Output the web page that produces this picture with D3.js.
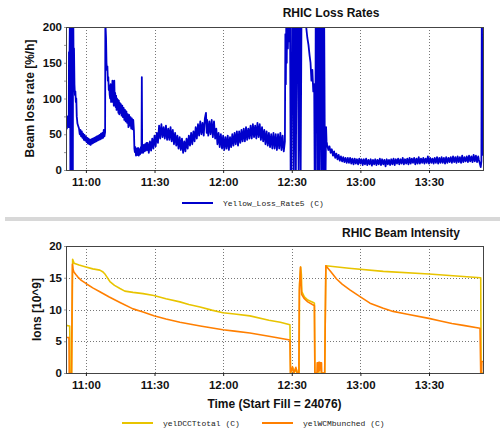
<!DOCTYPE html>
<html>
<head>
<meta charset="utf-8">
<script src="https://cdn.jsdelivr.net/npm/d3@7"></script>
<style>
  body { margin: 0; background: #fff; }
  svg { display: block; }
</style>
</head>
<body>
<svg id="chart" width="500" height="437"></svg>
<script>
// ---- Data (time = minutes after 10:00)
const timeDomain = [51.3, 233.6];
const timeTicks = ['11:00', '11:30', '12:00', '12:30', '13:00', '13:30'];

const lossTicks = [0, 25, 50, 75, 100, 125, 150, 175, 200];
const ionTicks = [0, 5, 10, 15, 20];

const yellowLossRate5 = [
  [51.3, 62], [51.5, 70], [51.7, 58], [51.9, 75], [52.1, 65], [52.3, 72], [52.5, 60],
  [52.6, 165], [52.8, 150], [53.0, 210], [53.1, 240], [53.2, 0], [53.6, 0], [53.8, 250],
  [54.0, 0], [54.3, 0], [54.4, 250], [54.6, 160], [54.8, 170], [55.0, 120], [55.2, 105],
  [55.4, 110], [55.6, 95], [55.8, 100], [56.0, 75], [56.3, 65], [56.6, 62], [57, 58],
  [57.3, 50], [57.6, 56], [57.9, 47], [58.2, 54], [58.5, 45], [58.8, 51], [59.1, 42],
  [59.4, 49], [59.7, 41], [60.0, 47], [60.3, 39], [60.6, 45], [60.9, 37], [61.2, 44],
  [61.5, 36], [61.8, 42], [62.1, 35], [62.4, 43], [62.7, 37], [63.0, 44], [63.3, 38],
  [63.6, 45], [63.9, 39], [64.2, 46], [64.5, 40], [64.8, 47], [65.1, 41], [65.4, 48],
  [65.7, 42], [66.0, 49], [66.3, 43], [66.6, 51], [66.9, 44], [67.2, 52], [67.5, 45],
  [67.8, 56], [68.1, 47], [68.4, 53],
  [68.5, 205], [68.6, 200], [68.8, 185], [69.0, 150], [69.2, 140], [69.4, 145], [69.6, 125],
  [69.8, 130], [70.0, 112], [70.2, 118], [70.4, 105], [70.6, 100], [70.8, 120], [71.0, 95],
  [71.2, 110], [71.4, 100], [71.6, 125], [71.8, 95], [72.0, 105], [72.2, 90], [72.4, 125],
  [72.6, 96], [72.8, 108], [73.0, 88], [73.2, 104], [73.4, 84], [73.6, 100], [73.8, 86],
  [74.0, 98], [74.2, 80], [74.4, 97], [74.6, 78], [74.8, 94], [75.0, 80], [75.3, 92],
  [75.6, 76], [75.9, 90], [76.2, 74], [76.5, 87], [76.8, 70], [77.1, 84], [77.4, 68],
  [77.7, 82], [78.0, 66], [78.3, 78], [78.6, 60], [78.9, 77], [79.2, 62], [79.5, 74],
  [79.8, 58], [80.1, 72], [80.4, 57], [80.7, 70], [81.0, 55], [81.2, 30], [81.4, 25],
  [81.6, 32], [81.9, 20], [82.2, 30], [82.5, 21], [82.8, 31], [83.1, 20], [83.4, 29],
  [83.7, 22], [84.0, 32], [84.3, 24], [84.45, 130], [84.6, 28], [84.8, 34], [85.0, 24],
  [85.3, 35], [85.6, 26], [85.9, 36], [86.2, 27], [86.5, 38], [86.8, 28],
  [87.0, 38], [87.5, 24], [88.0, 40], [88.5, 27], [89.0, 44], [89.5, 30], [90.0, 48],
  [90.5, 33], [91.0, 52], [91.5, 38], [92.0, 62], [92.5, 44], [93.0, 64], [93.5, 46],
  [94.0, 60], [94.5, 44], [95.0, 62], [95.5, 42], [96.0, 58], [96.5, 42], [97.0, 60],
  [97.5, 40], [98.0, 56], [98.5, 36], [99.0, 52], [99.5, 34], [100.0, 48], [100.5, 30],
  [101.0, 46], [101.5, 28], [102.0, 44], [102.5, 24], [103.0, 40], [103.5, 26], [104.0, 44],
  [104.5, 30], [105.0, 48], [105.5, 34], [106.0, 52], [106.5, 36], [107.0, 54], [107.5, 40],
  [108.0, 60], [108.5, 44], [109.0, 64], [109.5, 48], [110.0, 68], [110.5, 50], [111.0, 66],
  [111.5, 48], [112.0, 72], [112.5, 80], [112.8, 52], [113.0, 70], [113.5, 48], [114.0, 68],
  [114.5, 50], [115.0, 70], [115.5, 46], [116.0, 68], [116.5, 44], [117.0, 58], [117.5, 36],
  [118.0, 52], [118.5, 32], [119.0, 50], [119.5, 30], [120.0, 48], [120.5, 28], [121.0, 46],
  [121.5, 30], [122.0, 48], [122.5, 28], [123.0, 46], [123.5, 32], [124.0, 50], [124.5, 34],
  [125.0, 52], [125.5, 36], [126.0, 54], [126.5, 34], [127.0, 54], [127.5, 38], [128.0, 56],
  [128.5, 40], [129.0, 58], [129.5, 40], [130.0, 60], [130.5, 42], [131.0, 58], [131.5, 44],
  [132.0, 62], [132.5, 44], [133.0, 64], [133.5, 46], [134.0, 62], [134.5, 44], [135.0, 66],
  [135.5, 46], [136.0, 64], [136.5, 42], [137.0, 60], [137.5, 40], [138.0, 56], [138.5, 36],
  [139.0, 54], [139.5, 34], [140.0, 52], [140.5, 32], [141.0, 50], [141.5, 30], [142.0, 52],
  [142.5, 30], [143.0, 50], [143.5, 28], [144.0, 50], [144.5, 30], [145.0, 52], [145.5, 28],
  [146.0, 48], [146.5, 26], [147.0, 40],
  [147.2, 190], [147.4, 120], [147.6, 210], [147.8, 150], [148.0, 230], [148.3, 170],
  [148.6, 240], [148.9, 180], [149.2, 250], [149.5, 0], [149.9, 0], [150.2, 250],
  [150.6, 210], [150.9, 0], [151.3, 250], [151.8, 0], [152.2, 250], [152.6, 230], [153.0, 0],
  [153.4, 250], [153.9, 0], [154.3, 250], [154.8, 240], [155.3, 220], [155.8, 210],
  [156.3, 200], [156.8, 185], [157.3, 175], [157.8, 160], [158.2, 150], [158.6, 125],
  [159.0, 140], [159.4, 110], [159.8, 120], [160.0, 0], [160.3, 0], [160.5, 250],
  [160.9, 250], [161.2, 0], [161.6, 250], [162.0, 0], [162.4, 250], [162.9, 0], [163.3, 250],
  [163.7, 0], [164.1, 250], [164.5, 0], [164.8, 0],
  [165.0, 60], [165.2, 40], [165.5, 35], [166, 28], [166.5, 33], [167, 24], [167.5, 29],
  [168, 20], [168.5, 26], [169, 17], [169.5, 23], [170, 15], [170.5, 21], [171, 13],
  [171.5, 19], [172, 12], [172.5, 18], [173, 11], [173.5, 17], [174, 10], [174.5, 17],
  [175.0, 10], [175.5, 17], [176.0, 9], [176.5, 16], [177.0, 8], [177.5, 16], [178.0, 9],
  [178.5, 15], [179.0, 8], [179.5, 16], [180.0, 9], [180.5, 15], [181.0, 7], [181.5, 15],
  [182.0, 8], [182.5, 16], [183.0, 7], [183.5, 14], [184.0, 8], [184.5, 15], [185.0, 6],
  [185.5, 14], [186.0, 8], [186.5, 15], [187.0, 7], [187.5, 14], [188.0, 8], [188.5, 16],
  [189.0, 7], [189.5, 15], [190.0, 8], [190.5, 14], [191.0, 5], [191.5, 15], [192.0, 8],
  [192.5, 14], [193.0, 7], [193.5, 15], [194.0, 8], [194.5, 16], [195.0, 7], [195.5, 15],
  [196.0, 9], [196.5, 16], [197.0, 8], [197.5, 15], [198.0, 9], [198.5, 17], [199.0, 8],
  [199.5, 15], [200.0, 9], [200.5, 16], [201.0, 8], [201.5, 17], [202.0, 9], [202.5, 16],
  [203.0, 10], [203.5, 17], [204.0, 8], [204.5, 16], [205.0, 9], [205.5, 18], [206.0, 9],
  [206.5, 16], [207.0, 10], [207.5, 17], [208.0, 9], [208.5, 16], [209.0, 10], [209.5, 19],
  [210.0, 9], [210.5, 17], [211.0, 10], [211.5, 16], [212.0, 9], [212.5, 17], [213.0, 10],
  [213.5, 18], [214.0, 9], [214.5, 17], [215.0, 10], [215.5, 18], [216.0, 10], [216.5, 17],
  [217.0, 9], [217.5, 18], [218.0, 10], [218.5, 17], [219.0, 11], [219.5, 18], [220.0, 10],
  [220.5, 19], [221.0, 11], [221.5, 18], [222.0, 10], [222.5, 19], [223.0, 11], [223.5, 18],
  [224.0, 10], [224.5, 20], [225.0, 11], [225.5, 18], [226.0, 12], [226.5, 19], [227.0, 11],
  [227.5, 20], [228.0, 12], [228.5, 19], [229.0, 11], [229.5, 21], [230.0, 12], [230.5, 20],
  [231.0, 11], [231.5, 19], [231.8, 14], [232.3, 8], [232.6, 4], [232.9, 12], [233.1, 250],
  [233.4, 60], [233.6, 20]
];

const yelDCCTtotal = [
  [51.3, 7.5], [52.9, 7.4], [53.0, 5.5], [53.1, 0], [53.8, 0], [54.0, 8.5], [54.2, 17.9],
  [54.8, 17.3], [57, 17.0], [60, 16.7], [63, 16.4], [66.1, 16.2], [67.5, 15.9], [68.5, 15.5],
  [70.5, 14.4], [72.5, 13.8], [74.9, 13.3], [77, 12.9], [80.6, 12.7], [85, 12.5],
  [89.7, 12.2], [95, 11.7], [101.1, 11.2], [105, 10.8], [109.9, 10.4], [115, 9.9],
  [119.9, 9.5], [125, 9.3], [131.7, 9.0], [140, 8.3], [145, 8.0], [149.2, 7.6], [149.5, 0],
  [150.5, 0.8], [151, 0], [152, 0.6], [152.5, 0], [153.2, 0], [153.4, 14], [153.9, 16.7],
  [154.2, 15.5], [154.4, 12.8], [155.5, 12], [157, 11.5], [159.4, 11.1], [159.9, 11],
  [160.1, 0], [164.4, 0], [164.9, 16.9], [175, 16.5], [190, 16.0], [210, 15.6], [225, 15.2],
  [232.6, 15.0], [232.8, 0], [233.6, 0]
];

const yelWCMbunched = [
  [51.3, 5.6], [52.6, 5.6], [52.7, 0], [53.7, 0], [53.9, 8.5], [54.1, 17.1], [54.4, 16.3],
  [54.75, 15.9], [55.6, 15.5], [56.5, 15.1], [58, 14.6], [60, 14.1], [63, 13.4], [66.1, 12.8],
  [70, 12.0], [74.9, 11.1], [80.6, 10.1], [85, 9.6], [89.7, 9.0], [95, 8.5], [101.1, 8.0],
  [110, 7.4], [119.9, 6.8], [125, 6.6], [131.7, 6.3], [140, 5.8], [149.2, 5.2], [149.4, 0],
  [150.3, 1.0], [150.8, 0], [151.8, 0.9], [152.3, 0], [153.1, 0], [153.3, 13], [153.8, 16.7],
  [154.1, 14], [154.3, 12.4], [155.5, 11.7], [157, 11.2], [159.4, 10.7], [159.9, 10.6],
  [160.1, 0], [161.0, 0], [161.1, 1.6], [161.5, 1.6], [161.6, 0.2], [161.8, 1.7], [162.2, 1.7],
  [162.3, 0.3], [162.5, 1.6], [163.0, 1.6], [163.1, 0], [164.4, 0], [164.9, 16.9], [167, 16.0],
  [169.6, 14.8], [172, 14.0], [175.4, 13.1], [180, 12.0], [184.2, 11.0], [190, 10.2],
  [194.3, 9.7], [200, 9.3], [209.9, 8.6], [215, 8.2], [220, 7.8], [225, 7.5], [232.3, 7.05],
  [232.6, 0], [233.0, 0], [233.1, 1.8], [233.6, 1.8]
];

// ---- Helpers
const base = new Date(2000, 0, 1, 10, 0);
const toDate = m => new Date(base.getTime() + m * 60000);
const parseHM = s => { const [h, mi] = s.split(':').map(Number); return new Date(2000, 0, 1, h, mi); };

const svg = d3.select('#chart');
const W = 500, H = 437;
svg.append('rect').attr('width', W).attr('height', H).attr('fill', '#fff');

const left = 66, right = 483;
const x = d3.scaleTime().domain(timeDomain.map(toDate)).range([left, right]);

const sans = "'Liberation Sans', Arial, sans-serif";
const mono = "'Liberation Mono', 'DejaVu Sans Mono', monospace";

function drawPanel(opt) {
    const y = d3.scaleLinear().domain(opt.yDomain).range([opt.bottom, opt.top]);
    const g = svg.append('g');

    // clip
    g.append('clipPath').attr('id', opt.id + 'clip')
        .append('rect')
        .attr('x', left).attr('y', opt.top)
        .attr('width', right - left).attr('height', opt.bottom - opt.top);

    // vertical grid
    g.append('g')
        .selectAll('line')
        .data(timeTicks.map(parseHM))
        .join('line')
        .attr('x1', d => Math.round(x(d)) + 0.5).attr('x2', d => Math.round(x(d)) + 0.5)
        .attr('y1', opt.top).attr('y2', opt.bottom)
        .attr('stroke', '#777').attr('stroke-dasharray', '1,2');

    // horizontal grid
    if (opt.yGrid) {
        g.append('g')
            .selectAll('line')
            .data(opt.yGrid)
            .join('line')
            .attr('x1', left).attr('x2', right)
            .attr('y1', d => Math.round(y(d)) + 0.5).attr('y2', d => Math.round(y(d)) + 0.5)
            .attr('stroke', '#777').attr('stroke-dasharray', '1,2');
    }

    // series
    const line = d3.line().x(d => x(toDate(d[0]))).y(d => y(d[1]));
    const sg = g.append('g').attr('clip-path', `url(#${opt.id}clip)`);
    opt.series.forEach(s => {
        sg.append('path')
            .datum(s.data)
            .attr('d', line)
            .attr('fill', 'none')
            .attr('stroke', s.color)
            .attr('stroke-width', s.width)
            .attr('stroke-linejoin', 'round');
    });

    // frame
    g.append('rect')
        .attr('x', left + 0.5).attr('y', Math.round(opt.top) + 0.5)
        .attr('width', right - left).attr('height', Math.round(opt.bottom) - Math.round(opt.top))
        .attr('fill', 'none').attr('stroke', '#444');

    // axes
    const xAxis = d3.axisBottom(x)
        .tickValues(timeTicks.map(parseHM))
        .tickFormat(d3.timeFormat('%H:%M'))
        .tickSize(3).tickPadding(5);
    g.append('g')
        .attr('transform', `translate(0,${Math.round(opt.bottom)})`)
        .call(xAxis)
        .call(a => a.select('.domain').remove())
        .call(a => a.selectAll('line').attr('stroke', '#222'))
        .call(a => a.selectAll('text')
            .attr('font-family', sans).attr('font-size', 11.5).attr('font-weight', 'bold').attr('fill', '#111'));

    const yAxis = d3.axisLeft(y)
        .tickValues(opt.yTicks)
        .tickFormat(d => opt.yLabels.includes(d) ? d : '')
        .tickSize(2).tickPadding(2);
    g.append('g')
        .attr('transform', `translate(${left},0)`)
        .call(yAxis)
        .call(a => a.select('.domain').remove())
        .call(a => a.selectAll('line').attr('stroke', '#999'))
        .call(a => a.selectAll('text')
            .attr('font-family', sans).attr('font-size', 11.5).attr('font-weight', 'bold').attr('fill', '#111'));

    // titles
    g.append('text')
        .attr('x', opt.titleX).attr('y', opt.titleY)
        .attr('text-anchor', 'middle')
        .attr('font-family', sans).attr('font-size', 12).attr('font-weight', 'bold')
        .attr('fill', '#111')
        .text(opt.title);

    g.append('text')
        .attr('transform', `translate(${opt.yLabelX},${(opt.top + opt.bottom) / 2}) rotate(-90)`)
        .attr('text-anchor', 'middle')
        .attr('dominant-baseline', 'middle')
        .attr('font-family', sans).attr('font-size', 12).attr('font-weight', 'bold')
        .attr('fill', '#111')
        .text(opt.yLabel);

    // legend
    opt.legend.forEach(l => {
        g.append('line')
            .attr('x1', l.x).attr('x2', l.x + 31)
            .attr('y1', l.y).attr('y2', l.y)
            .attr('stroke', l.color).attr('stroke-width', 2);
        g.append('text')
            .attr('x', l.x + 41).attr('y', l.y + 3)
            .attr('font-family', mono).attr('font-size', 8)
            .attr('fill', '#222')
            .text(l.label);
    });
}

drawPanel({
    id: 'loss', top: 27, bottom: 170,
    yDomain: [0, 200], yTicks: lossTicks, yLabels: [0, 50, 100, 150, 200],
    series: [{ data: yellowLossRate5, color: '#0000cc', width: 1.8 }],
    title: 'RHIC Loss Rates', titleX: 331, titleY: 17,
    yLabel: 'Beam loss rate [%/h]', yLabelX: 31,
    legend: [{ x: 182, y: 203, color: '#0000cc', label: 'Yellow_Loss_Rate5 (C)' }]
});

drawPanel({
    id: 'int', top: 246, bottom: 373,
    yDomain: [0, 20], yTicks: ionTicks, yLabels: ionTicks, yGrid: [5, 10, 15],
    series: [
        { data: yelDCCTtotal, color: '#e8c400', width: 1.6 },
        { data: yelWCMbunched, color: '#ff7f00', width: 1.6 }
    ],
    title: 'RHIC Beam Intensity', titleX: 401, titleY: 237,
    yLabel: 'Ions [10^9]', yLabelX: 38,
    legend: [
        { x: 122, y: 423, color: '#e8c400', label: 'yelDCCTtotal (C)' },
        { x: 262, y: 423, color: '#ff7f00', label: 'yelWCMbunched (C)' }
    ]
});

// x-axis title of lower panel
svg.append('text')
    .attr('x', (left + right) / 2).attr('y', 408)
    .attr('text-anchor', 'middle')
    .attr('font-family', sans).attr('font-size', 12).attr('font-weight', 'bold')
    .attr('fill', '#111')
    .text('Time (Start Fill = 24076)');

// separator bar
svg.append('rect')
    .attr('x', 5).attr('y', 217).attr('width', W - 5).attr('height', 4)
    .attr('fill', '#d8d8d8');
</script>
</body>
</html>
